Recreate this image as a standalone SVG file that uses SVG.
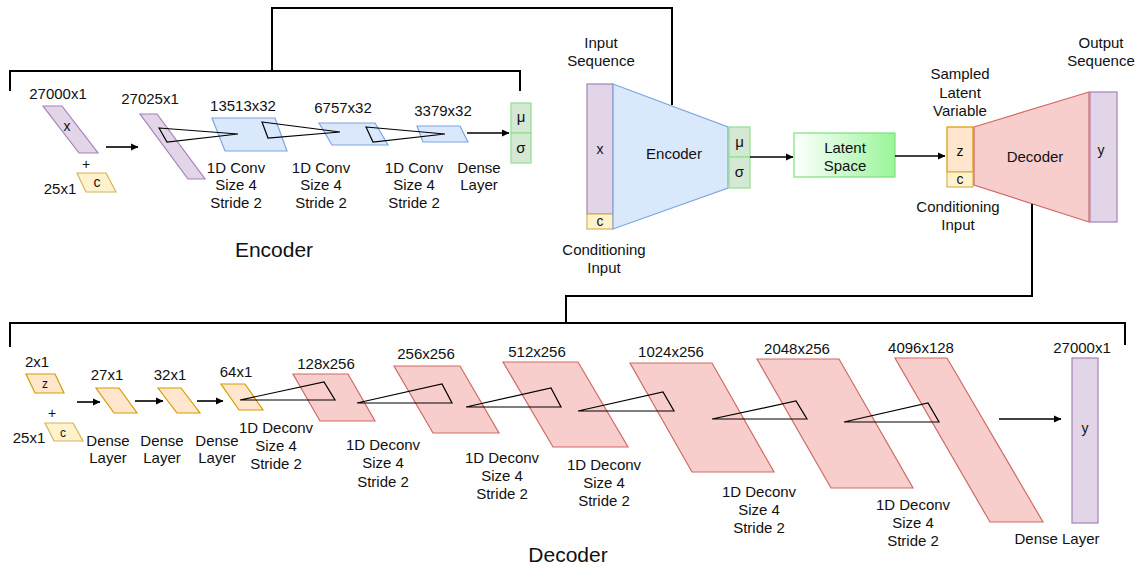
<svg xmlns="http://www.w3.org/2000/svg" width="1145" height="569" viewBox="0 0 1145 569">
<defs>
<marker id="ah" markerWidth="8" markerHeight="8" refX="7" refY="4" orient="auto" markerUnits="userSpaceOnUse">
<path d="M0,0.5 L7.5,4 L0,7.5 z" fill="#000"/>
</marker>
<linearGradient id="lg" x1="0" y1="0" x2="1" y2="0">
<stop offset="0" stop-color="#ffffff"/>
<stop offset="1" stop-color="#99f599"/>
</linearGradient>
<style>
text{font-family:"Liberation Sans",Arial,sans-serif;font-size:15px;fill:#111;text-anchor:middle}
.t{font-size:21px}
.s{font-size:14px}
.xs{font-size:12px}
.pu{fill:#e1d5e7;stroke:#a680b8;stroke-width:1.2}
.bl{fill:#dae8fc;stroke:#7ea6e0;stroke-width:1.2}
.rd{fill:#f8cecc;stroke:#d06a66;stroke-width:1.2}
.or{fill:#ffe6cc;stroke:#d79b00;stroke-width:1.2}
.ye{fill:#fff2cc;stroke:#d6b656;stroke-width:1.2}
.gr{fill:#d5e8d4;stroke:#8fe08f;stroke-width:1.2}
.ln{fill:none;stroke:#000;stroke-width:2}
.ar{fill:none;stroke:#000;stroke-width:1.6;marker-end:url(#ah)}
.k{fill:none;stroke:#000;stroke-width:1.2;stroke-linejoin:miter}
</style>
</defs>
<rect width="1145" height="569" fill="#fff"/>

<!-- ENCODER DETAIL -->
<g id="enc-x">
<text x="58" y="99">27000x1</text>
<polygon class="pu" points="43,106 62,106 98,153 79,153"/>
<text class="s" x="67" y="131">x</text>
</g>
<g id="enc-plus"><text class="s" x="86" y="169">+</text></g>
<g id="enc-c">
<text x="60" y="194">25x1</text>
<polygon class="ye" points="77,173 106,173 116,192 86,192"/>
<text class="s" x="97" y="187">c</text>
</g>
<g id="enc-concat">
<text x="150" y="104">27025x1</text>
<polygon class="pu" points="140,114 157,114 205,179 188,179"/>
</g>
<g id="enc-conv1">
<text x="243" y="111">13513x32</text>
<polygon class="bl" points="212,118 275,118 287,151 225,151"/>
<text x="236" y="173">1D Conv</text><text x="236" y="190">Size 4</text><text x="236" y="208">Stride 2</text>
</g>
<g id="enc-conv2">
<text x="343" y="113">6757x32</text>
<polygon class="bl" points="319,123 375,123 388,145 332,145"/>
<text x="321" y="173">1D Conv</text><text x="321" y="190">Size 4</text><text x="321" y="208">Stride 2</text>
</g>
<g id="enc-conv3">
<text x="443" y="116">3379x32</text>
<polygon class="bl" points="417,126 460,126 468,142 423,142"/>
<text x="414" y="173">1D Conv</text><text x="414" y="190">Size 4</text><text x="414" y="208">Stride 2</text>
</g>
<g id="enc-dense-label">
<text x="479" y="173">Dense</text><text x="479" y="190">Layer</text>
</g>
<g id="enc-musigma">
<rect class="gr" x="511" y="103" width="20" height="30"/>
<rect class="gr" x="511" y="133" width="20" height="30"/>
<text x="521" y="122">μ</text>
<text x="521" y="153">σ</text>
</g>
<g id="enc-title"><text class="t" x="274" y="257">Encoder</text></g>

<!-- CVAE OVERVIEW -->
<g id="cv-input">
<text x="601" y="48">Input</text><text x="601" y="66">Sequence</text>
<rect class="pu" x="587" y="84" width="26" height="130"/>
<text class="s" x="600" y="154">x</text>
<rect class="ye" x="587" y="214" width="26" height="15"/>
<text class="s" x="600" y="226">c</text>
<text x="604" y="255">Conditioning</text><text x="604" y="273">Input</text>
</g>
<g id="cv-encoder">
<polygon class="bl" points="613,84 728,127 728,188 613,229"/>
<text x="674" y="159">Encoder</text>
</g>
<g id="cv-musigma">
<rect class="gr" x="729" y="127" width="21" height="30"/>
<rect class="gr" x="729" y="157" width="21" height="31"/>
<text x="739.5" y="147">μ</text>
<text x="739.5" y="177">σ</text>
</g>
<g id="cv-latent">
<rect x="794" y="133" width="101" height="44" fill="url(#lg)" stroke="#7be07b" stroke-width="1.2"/>
<text x="845" y="153">Latent</text><text x="845" y="171">Space</text>
</g>
<g id="cv-z">
<text x="960" y="79">Sampled</text><text x="960" y="97.5">Latent</text><text x="960" y="116">Variable</text>
<rect class="or" x="947" y="127" width="26" height="45"/>
<text class="s" x="960" y="156">z</text>
<rect class="ye" x="947" y="172" width="26" height="15"/>
<text class="s" x="960" y="184">c</text>
<text x="958" y="212">Conditioning</text><text x="958" y="230">Input</text>
</g>
<g id="cv-decoder">
<polygon class="rd" points="974,127 1089,92 1089,222 974,185"/>
<text x="1035" y="162">Decoder</text>
</g>
<g id="cv-output">
<text x="1101" y="48">Output</text><text x="1101" y="66">Sequence</text>
<rect class="pu" x="1090" y="92" width="27" height="130"/>
<text class="s" x="1101" y="155">y</text>
</g>

<!-- DECODER DETAIL -->
<g id="dec-z">
<text x="37" y="367">2x1</text>
<polygon class="or" points="26,374 55,374 64,393 35,393"/>
<text class="xs" x="45" y="388">z</text>
</g>
<g id="dec-plus"><text class="s" x="52" y="418">+</text></g>
<g id="dec-c">
<text x="29" y="443">25x1</text>
<polygon class="ye" points="45,423 73,423 83,441 54,441"/>
<text class="xs" x="63" y="437">c</text>
</g>
<g id="dec-d1">
<text x="107" y="380">27x1</text>
<polygon class="or" points="96,388 119,388 137,413 114,413"/>
<text x="108" y="446">Dense</text><text x="108" y="463">Layer</text>
</g>
<g id="dec-d2">
<text x="170" y="380">32x1</text>
<polygon class="or" points="158,388 181,388 200,413 177,413"/>
<text x="162" y="446">Dense</text><text x="162" y="463">Layer</text>
</g>
<g id="dec-d3">
<text x="236" y="377">64x1</text>
<polygon class="or" points="221,384 245,384 263,410 239,410"/>
<text x="217" y="446">Dense</text><text x="217" y="463">Layer</text>
</g>
<g id="dec-p1">
<text x="326" y="369">128x256</text>
<polygon class="rd" points="293,374 348,374 375,421 320,421"/>
<text x="276" y="433">1D Deconv</text><text x="276" y="451">Size 4</text><text x="276" y="469">Stride 2</text>
</g>
<g id="dec-p2">
<text x="426" y="359">256x256</text>
<polygon class="rd" points="394,366 460,366 499,433 433,433"/>
<text x="383" y="450">1D Deconv</text><text x="383" y="468">Size 4</text><text x="383" y="487">Stride 2</text>
</g>
<g id="dec-p3">
<text x="537" y="357">512x256</text>
<polygon class="rd" points="503,362 578,362 628,447 553,447"/>
<text x="502" y="463">1D Deconv</text><text x="502" y="481">Size 4</text><text x="502" y="499">Stride 2</text>
</g>
<g id="dec-p4">
<text x="671" y="357">1024x256</text>
<polygon class="rd" points="630,363 712,363 774,472 692,472"/>
<text x="604" y="470">1D Deconv</text><text x="604" y="488">Size 4</text><text x="604" y="506">Stride 2</text>
</g>
<g id="dec-p5">
<text x="797" y="354">2048x256</text>
<polygon class="rd" points="757,359 839,359 913,488 831,488"/>
<text x="759" y="497">1D Deconv</text><text x="759" y="515">Size 4</text><text x="759" y="533">Stride 2</text>
</g>
<g id="dec-p6">
<text x="921" y="353">4096x128</text>
<polygon class="rd" points="895,358 947,358 1043,522 990,522"/>
<text x="913" y="510">1D Deconv</text><text x="913" y="528">Size 4</text><text x="913" y="546">Stride 2</text>
</g>
<g id="dec-y">
<text x="1082" y="353">27000x1</text>
<rect class="pu" x="1072" y="358" width="26" height="165"/>
<text class="s" x="1085" y="433">y</text>
<text x="1057" y="544">Dense Layer</text>
</g>
<g id="dec-title"><text class="t" x="568" y="562">Decoder</text></g>

<!-- KERNEL TRIANGLES -->
<g id="kernels">
<polygon class="k" points="159,128 238,134 167,142"/>
<polygon class="k" points="262,122 340,132 268,138"/>
<polygon class="k" points="366,127 445,134 373,142"/>
<polygon class="k" points="240,400 324,382 335,400"/>
<polygon class="k" points="357,403 442,384 452,403"/>
<polygon class="k" points="466,407 551,388 561,407"/>
<polygon class="k" points="578,411 663,392 674,411"/>
<polygon class="k" points="712,419 796,401 807,419"/>
<polygon class="k" points="844,422 928,403 939,422"/>
</g>

<!-- CONNECTORS -->
<g id="connectors">
<path class="ln" d="M10,91 V71 H520 V91"/>
<path class="ln" d="M272,71 V8 H672 V105"/>
<path class="ln" d="M10,347 V323 H1125 V345"/>
<path class="ln" d="M566,323 V296 H1032 V204"/>
<path class="ar" d="M106,147 H138"/>
<path class="ar" d="M467,133 H509"/>
<path class="ar" d="M750,157 H793"/>
<path class="ar" d="M895,156 H945"/>
<path class="ar" d="M77,402 H100"/>
<path class="ar" d="M135,401 H163"/>
<path class="ar" d="M197,401 H223"/>
<path class="ar" d="M999,419 H1061"/>
</g>
</svg>
